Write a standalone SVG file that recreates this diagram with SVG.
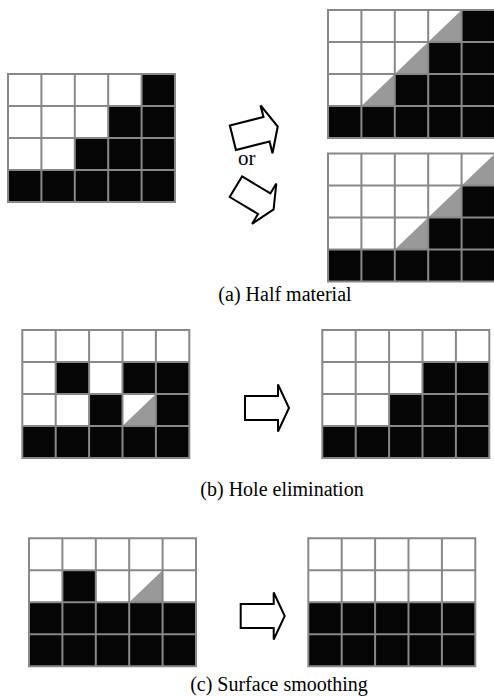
<svg xmlns="http://www.w3.org/2000/svg" xmlns:xlink="http://www.w3.org/1999/xlink" width="494" height="696" viewBox="0 0 494 696">
<style>
.bg{fill:#ffffff}
.b{fill:#050505}
.g{fill:#999999}
.grid{fill:none;stroke:#888888;stroke-width:2}
.arr{fill:#ffffff;stroke:#000000;stroke-width:2;stroke-linejoin:miter}
.t{font-family:"Liberation Serif","Times New Roman",serif;fill:#000000}
</style>
<defs>
<path id="gridlines" class="grid" d="M0 0H167V128H0Z M33.4 0V128 M66.8 0V128 M100.2 0V128 M133.6 0V128 M0 32H167 M0 64H167 M0 96H167"/>
<polygon id="arrow" class="arr" points="0,-12 33,-12 33,-23.5 44,0 33,23.5 33,12 0,12"/>
</defs>
<rect width="494" height="696" fill="#ffffff"/>

<g id="grid-a-before" transform="translate(8,74)">
<rect class="bg" width="167" height="128"/>
<rect class="b" x="133.6" y="0" width="33.4" height="32"/>
<rect class="b" x="100.2" y="32" width="66.8" height="32"/>
<rect class="b" x="66.8" y="64" width="100.2" height="32"/>
<rect class="b" x="0" y="96" width="167" height="32"/>
<use xlink:href="#gridlines"/>
</g>

<g id="grid-a-after1" transform="translate(328,10)">
<rect class="bg" width="167" height="128"/>
<rect class="b" x="133.6" y="0" width="33.4" height="32"/>
<rect class="b" x="100.2" y="32" width="66.8" height="32"/>
<rect class="b" x="66.8" y="64" width="100.2" height="32"/>
<rect class="b" x="0" y="96" width="167" height="32"/>
<polygon class="g" points="33.4,96 133.6,0 133.6,32 100.2,32 100.2,64 66.8,64 66.8,96"/>
<use xlink:href="#gridlines"/>
</g>

<g id="grid-a-after2" transform="translate(328,153.5)">
<rect class="bg" width="167" height="128"/>
<rect class="b" x="133.6" y="32" width="33.4" height="32"/>
<rect class="b" x="100.2" y="64" width="66.8" height="32"/>
<rect class="b" x="0" y="96" width="167" height="32"/>
<polygon class="g" points="66.8,96 167,0 167,32 133.6,32 133.6,64 100.2,64 100.2,96"/>
<use xlink:href="#gridlines"/>
</g>

<g id="grid-b-before" transform="translate(22.3,330)">
<rect class="bg" width="167" height="128"/>
<rect class="b" x="33.4" y="32" width="33.4" height="32"/>
<rect class="b" x="100.2" y="32" width="66.8" height="32"/>
<rect class="b" x="66.8" y="64" width="33.4" height="32"/>
<rect class="b" x="133.6" y="64" width="33.4" height="32"/>
<rect class="b" x="0" y="96" width="167" height="32"/>
<polygon class="g" points="133.6,64 133.6,96 100.2,96"/>
<use xlink:href="#gridlines"/>
</g>

<g id="grid-b-after" transform="translate(322.3,330)">
<rect class="bg" width="167" height="128"/>
<rect class="b" x="100.2" y="32" width="66.8" height="32"/>
<rect class="b" x="66.8" y="64" width="100.2" height="32"/>
<rect class="b" x="0" y="96" width="167" height="32"/>
<use xlink:href="#gridlines"/>
</g>

<g id="grid-c-before" transform="translate(29,538.3)">
<rect class="bg" width="167" height="128"/>
<rect class="b" x="33.4" y="32" width="33.4" height="32"/>
<rect class="b" x="0" y="64" width="167" height="64"/>
<polygon class="g" points="133.6,32 133.6,64 100.2,64"/>
<use xlink:href="#gridlines"/>
</g>

<g id="grid-c-after" transform="translate(308.3,538.3)">
<rect class="bg" width="167" height="128"/>
<rect class="b" x="0" y="64" width="167" height="64"/>
<use xlink:href="#gridlines"/>
</g>

<g id="connectors">
<use xlink:href="#arrow" transform="translate(232.9,137.7) rotate(-14) scale(1.05)"/>
<use xlink:href="#arrow" transform="translate(235.9,186.7) rotate(31)"/>
<use xlink:href="#arrow" transform="translate(245,408)"/>
<use xlink:href="#arrow" transform="translate(240.7,616)"/>
</g>

<g id="labels">
<text class="t" x="238" y="165" font-size="21">or</text>
<text class="t" x="285" y="301" font-size="20" text-anchor="middle">(a) Half material</text>
<text class="t" x="282" y="496" font-size="20" text-anchor="middle">(b) Hole elimination</text>
<text class="t" x="279" y="691" font-size="20" text-anchor="middle">(c) Surface smoothing</text>
</g>
</svg>
